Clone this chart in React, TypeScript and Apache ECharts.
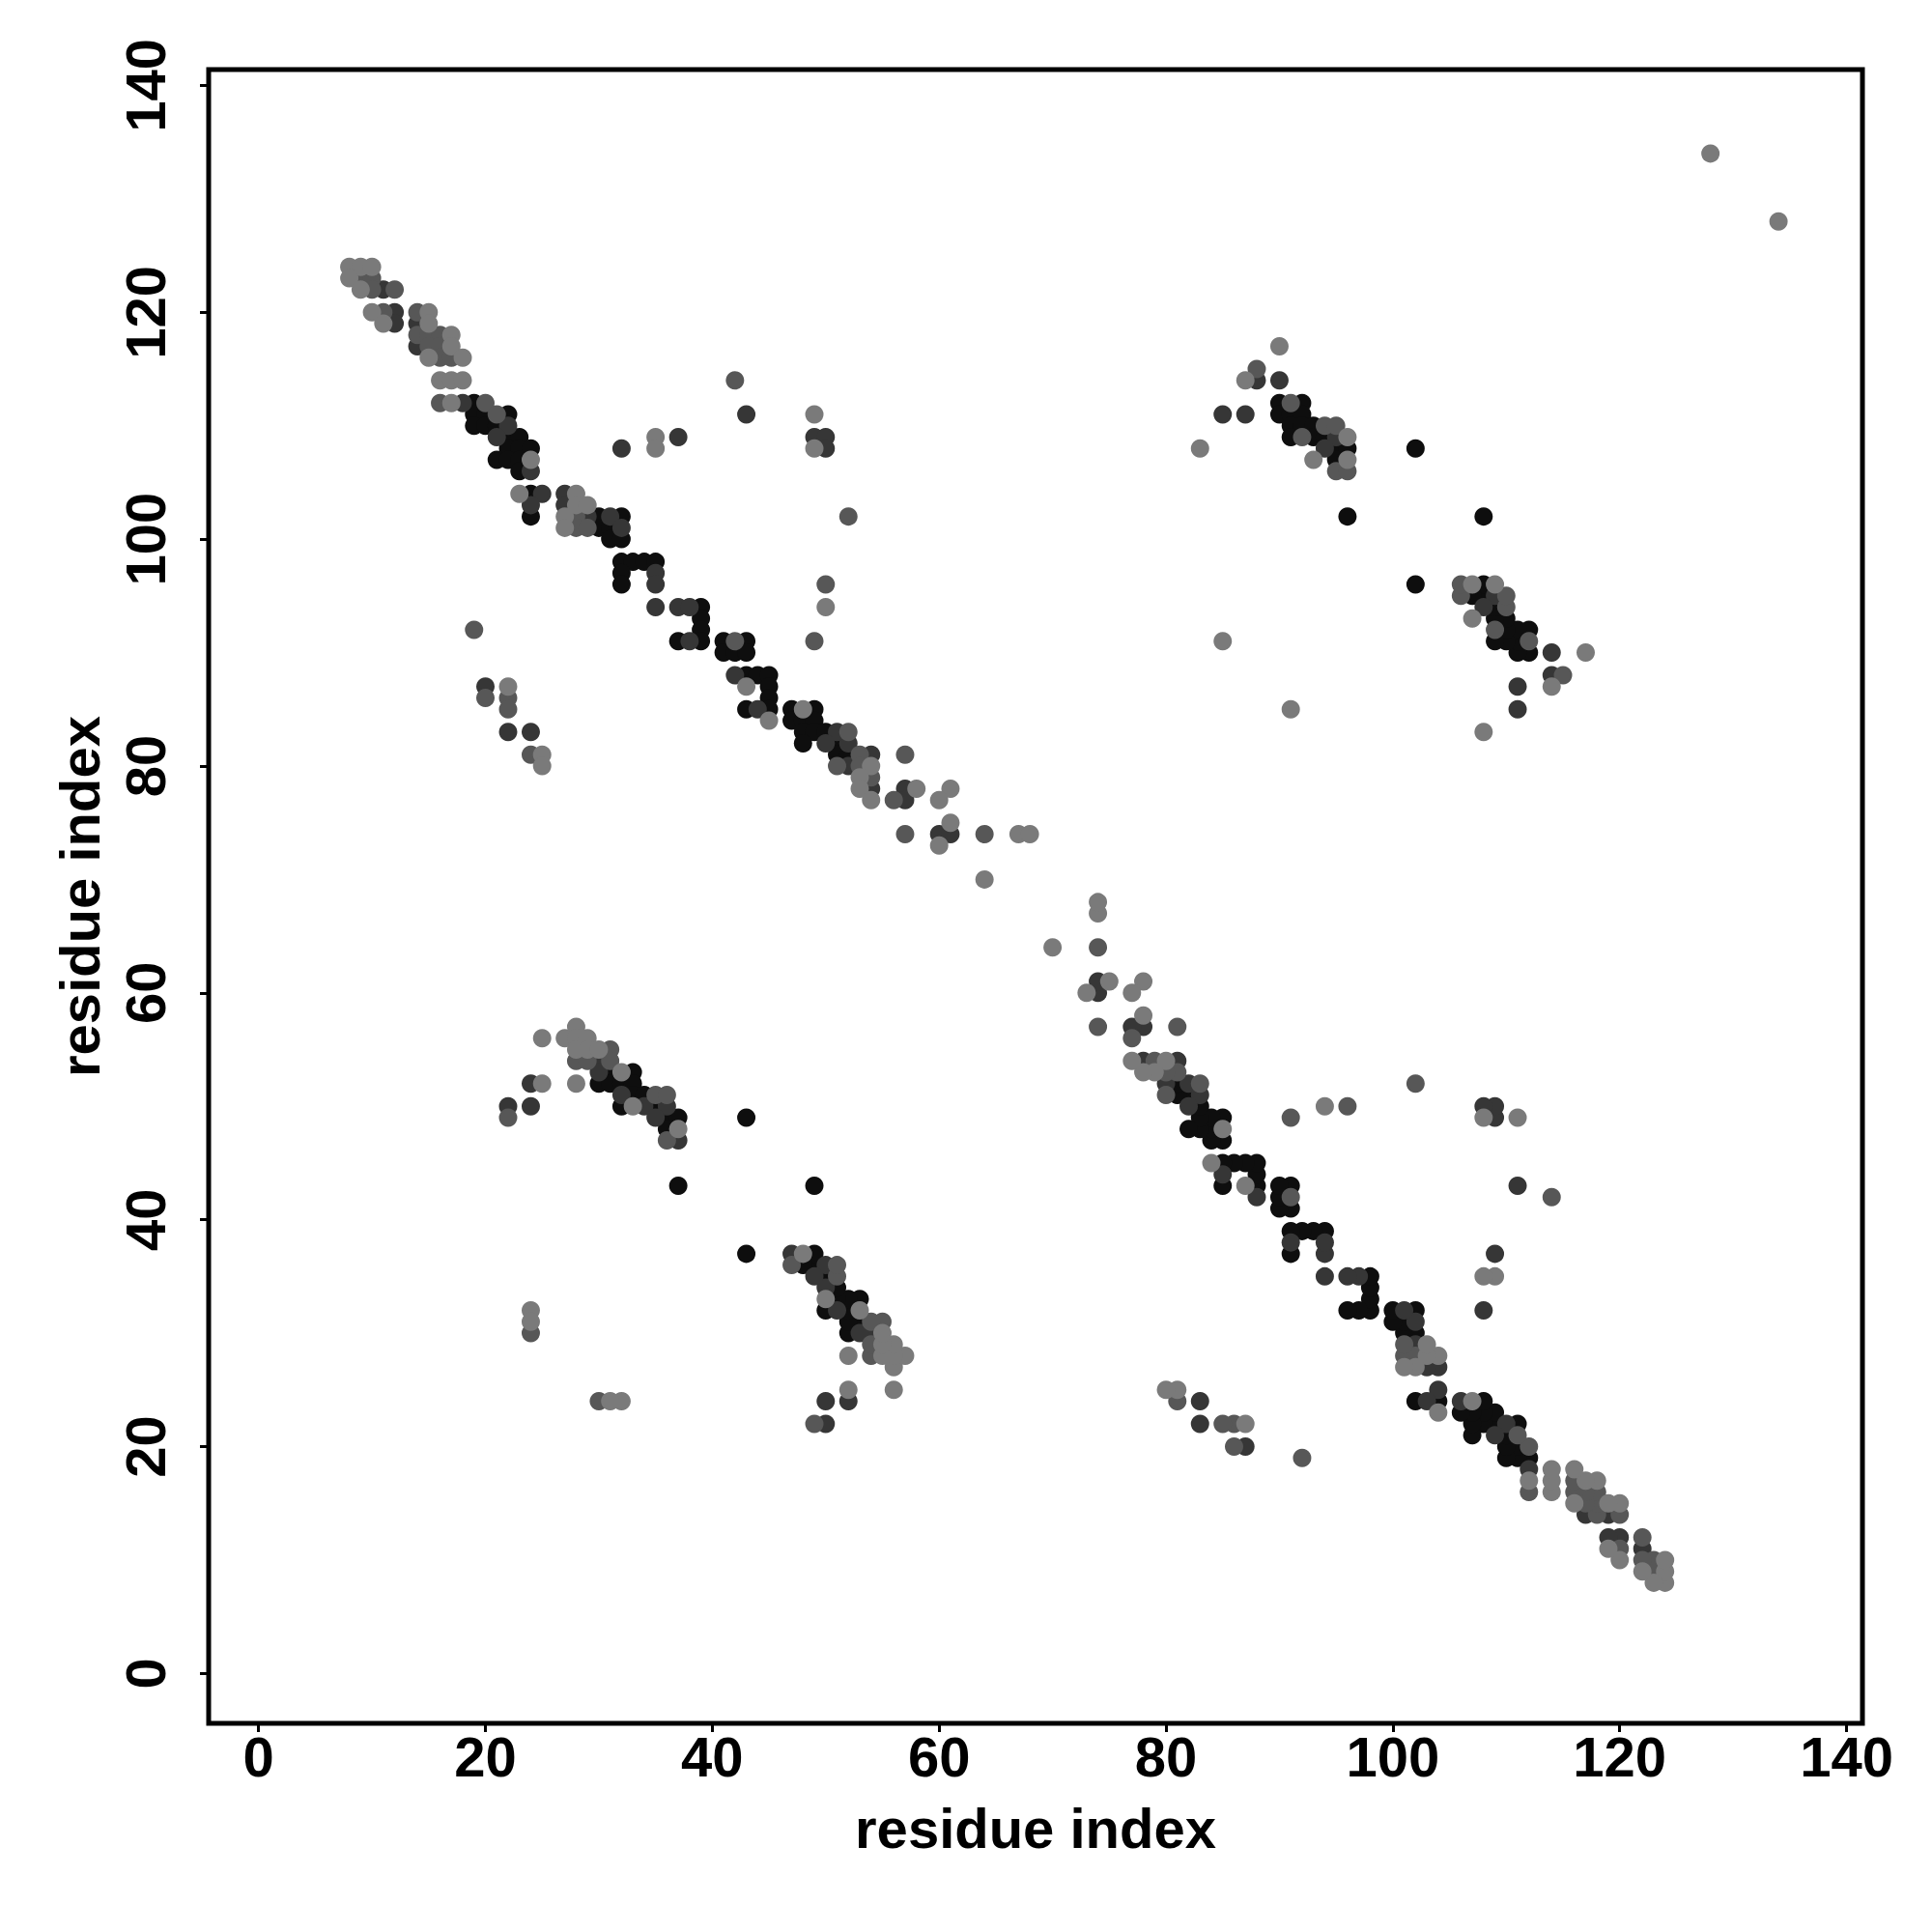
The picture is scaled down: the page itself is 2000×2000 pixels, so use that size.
import React, { useEffect, useRef } from "react";
import * as echarts from "echarts";

// Tick values shown on both axes
const TICKS = [0, 20, 40, 60, 80, 100, 120, 140];
const AXIS_MIN = -4.4;
const AXIS_MAX = 141.4;

// Contacts (i < j); each is drawn at (i, j) and mirrored at (j, i)
const contactsBlack: [number, number][] = [
  [19, 112], [19, 111], [20, 111], [22, 111], [19, 110], [20, 110], [21, 110],
  [22, 109], [23, 109], [22, 108], [23, 108], [24, 108], [21, 107], [22, 107],
  [23, 107], [23, 106], [24, 104], [24, 102], [30, 102], [32, 102], [30, 101],
  [31, 101], [31, 100], [32, 100], [32, 98], [33, 98], [34, 98], [35, 98],
  [32, 97], [32, 96], [39, 94], [39, 93], [39, 92], [37, 91], [39, 91],
  [41, 91], [43, 91], [41, 90], [42, 90], [43, 90], [43, 88], [44, 88],
  [45, 88], [45, 87], [45, 86], [43, 85], [45, 85], [47, 85], [49, 85],
  [47, 84], [48, 84], [49, 84], [48, 83], [49, 83], [50, 83], [48, 82],
  [51, 82], [51, 81], [52, 81],
  [31, 53], [33, 53], [30, 52], [31, 52], [32, 52], [33, 52], [33, 51],
  [34, 51], [32, 50], [35, 50], [36, 49], [37, 49], [36, 48], [37, 43], [43, 49],
  [90, 112], [92, 112], [90, 111], [91, 111], [92, 111], [91, 110], [92, 110],
  [93, 110], [91, 109], [93, 109], [94, 109], [95, 108], [96, 108], [95, 107],
  [102, 108], [96, 102],
];

const contactsDark: [number, number][] = [
  [11, 122], [12, 120], [12, 119], [14, 119], [14, 117], [18, 112], [22, 110],
  [21, 109], [24, 106], [25, 104], [24, 103], [27, 104], [27, 103], [29, 102],
  [31, 102], [32, 101], [35, 97], [35, 96], [35, 94], [37, 94], [38, 94],
  [38, 91], [42, 88], [44, 85], [51, 83], [50, 82], [52, 82], [54, 81],
  [52, 80], [54, 78], [57, 78], [57, 77], [60, 74], [61, 74],
  [43, 111], [37, 109], [49, 109], [50, 109], [50, 108], [32, 108],
  [20, 87], [22, 83], [24, 83],
  [30, 54], [30, 53], [24, 52], [22, 50], [24, 50], [32, 51], [34, 50],
  [36, 50], [35, 49], [37, 47],
  [88, 114], [90, 114], [85, 111], [87, 111], [95, 109], [94, 108],
];

const contactsMid: [number, number][] = [
  [9, 123], [10, 123], [10, 122], [12, 122], [11, 120], [14, 120], [14, 118],
  [15, 118], [16, 118], [15, 117], [16, 117], [16, 116], [17, 116], [16, 112],
  [20, 112], [21, 111], [28, 102], [28, 101], [29, 101], [42, 91], [52, 83],
  [53, 81], [51, 80], [53, 80], [54, 79], [57, 81], [56, 77], [57, 74], [64, 74],
  [42, 114], [52, 102], [50, 96], [49, 91],
  [19, 92], [20, 86], [22, 86], [22, 85], [24, 81],
  [24, 30],
  [31, 55], [28, 54], [29, 54], [31, 54], [22, 49], [35, 51], [36, 51], [36, 47],
  [88, 115], [91, 112], [94, 110], [95, 110], [92, 109], [95, 106], [96, 106],
];

const contactsLight: [number, number][] = [
  [8, 124], [9, 124], [10, 124], [8, 123], [9, 122], [10, 120], [11, 119],
  [15, 120], [15, 119], [17, 118], [17, 117], [15, 116], [18, 116], [16, 114],
  [17, 114], [18, 114], [17, 112], [24, 107], [23, 104], [28, 104], [28, 103],
  [29, 103], [27, 102], [27, 101], [43, 87], [45, 84], [48, 85], [54, 80],
  [53, 79], [53, 78], [54, 77], [58, 78], [61, 78], [60, 77], [61, 75],
  [60, 73], [67, 74], [68, 74], [64, 70],
  [35, 109], [35, 108], [49, 111], [49, 108], [50, 94],
  [22, 87], [25, 81], [25, 80],
  [24, 32], [24, 31],
  [25, 56], [27, 56], [28, 57], [28, 56], [29, 56], [28, 55], [29, 55],
  [30, 55], [32, 53], [25, 52], [28, 52], [33, 50], [37, 48],
  [90, 117], [87, 114], [83, 108], [93, 107], [96, 109], [96, 107], [85, 91],
  [128, 134],
];

const LEVELS = [
  { name: "black", color: "#0e0e0e", pairs: contactsBlack },
  { name: "dark", color: "#363636", pairs: contactsDark },
  { name: "mid", color: "#575757", pairs: contactsMid },
  { name: "light", color: "#7a7a7a", pairs: contactsLight },
];

function mirror(pairs: [number, number][]): number[][] {
  const out: number[][] = [];
  for (const [i, j] of pairs) {
    out.push([i, j]);
    out.push([j, i]);
  }
  return out;
}

const FONT = "'Liberation Sans', Arial, Helvetica, sans-serif";

function makeAxis(isX: boolean) {
  return {
    type: "value",
    min: AXIS_MIN,
    max: AXIS_MAX,
    position: isX ? "bottom" : "left",
    name: "residue index",
    nameLocation: "middle",
    nameGap: isX ? 79 : 105,
    nameTextStyle: { fontSize: 58, fontWeight: "bold", color: "#000", fontFamily: FONT },
    axisLine: { show: false, onZero: false },
    axisTick: {
      show: true,
      inside: false,
      length: 9,
      customValues: TICKS,
      lineStyle: { color: "#000", width: 3 },
    },
    axisLabel: {
      show: true,
      customValues: TICKS,
      fontSize: 58,
      fontWeight: "bold",
      color: "#000",
      fontFamily: FONT,
      margin: isX ? 5 : 37,
      rotate: isX ? 0 : 90,
    },
    splitLine: { show: false },
  };
}

export default function App() {
  const ref = useRef<HTMLDivElement>(null);
  useEffect(() => {
    if (!ref.current) return;
    const chart = echarts.init(ref.current, null, { renderer: "svg" });
    chart.setOption({
      animation: false,
      backgroundColor: "#fff",
      textStyle: { fontFamily: FONT },
      grid: {
        show: true,
        left: 216,
        top: 72,
        width: 1712,
        height: 1712,
        borderColor: "#000",
        borderWidth: 5,
        backgroundColor: "transparent",
        containLabel: false,
      },
      xAxis: makeAxis(true),
      yAxis: makeAxis(false),
      series: LEVELS.map((lv) => ({
        name: lv.name,
        type: "scatter",
        data: mirror(lv.pairs),
        symbol: "circle",
        symbolSize: 19,
        itemStyle: { color: lv.color, opacity: 1 },
        emphasis: { disabled: true },
      })),
    });
    return () => chart.dispose();
  }, []);
  return (
    <div
      ref={ref}
      style={{ position: "absolute", left: 0, top: 0, width: 2000, height: 2000, background: "#fff" }}
    />
  );
}
